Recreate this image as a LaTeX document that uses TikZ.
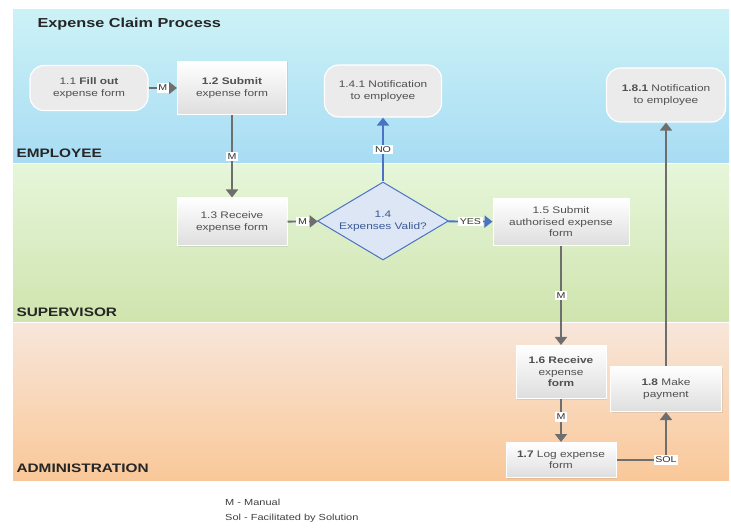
\documentclass[tikz,border=0pt]{standalone}
\usepackage{fontspec}
\setmainfont{Liberation Sans}
\newfontfamily\widefont[FakeStretch=1.25]{Liberation Sans}
\usetikzlibrary{arrows.meta,shapes.geometric,shadows}
\definecolor{linegray}{HTML}{6E6E6E}
\definecolor{txtgray}{HTML}{505050}
\definecolor{dblue}{HTML}{4C72C4}
\definecolor{dtext}{HTML}{3A5A98}
\definecolor{empTop}{HTML}{CCF2F6}
\definecolor{empBot}{HTML}{A8DCF4}
\definecolor{supTop}{HTML}{E6F6DA}
\definecolor{supBot}{HTML}{CFE4AE}
\definecolor{admTop}{HTML}{F8E6DA}
\definecolor{admBot}{HTML}{F9C899}
\definecolor{decFill}{HTML}{DCE6F4}
\tikzset{
  procbox/.style={rectangle, draw=white, line width=1pt, top color=white, bottom color=black!13,
    align=center, text=txtgray, font=\widefont\fontsize{9.5}{11.5}\selectfont, inner sep=2pt,
    drop shadow={opacity=0.18, shadow xshift=1pt, shadow yshift=-1pt}},
  termbox/.style={rectangle, rounded corners=14pt, draw=white, line width=1.2pt, fill=black!8,
    align=center, text=txtgray, font=\widefont\fontsize{9.5}{11.5}\selectfont, inner sep=2pt},
  decbox/.style={diamond, draw=dblue, line width=1pt, fill=decFill, aspect=1.68,
    align=center, text=dtext, font=\widefont\fontsize{9.5}{11.5}\selectfont, inner sep=1pt},
  conn/.style={draw=linegray, line width=1.8pt, -{Triangle[width=12pt,length=8pt]}},
  bconn/.style={draw=dblue, line width=1.8pt, -{Triangle[width=12pt,length=8pt]}},
  lab/.style={fill=white, text=black!80, font=\widefont\fontsize{8.5}{9.5}\selectfont, inner sep=1.8pt},
  lanelab/.style={anchor=west, font=\widefont\bfseries\fontsize{12.3}{14}\selectfont, text=black!85},
}
\begin{document}
\begin{tikzpicture}[x=1pt,y=-1pt]
\useasboundingbox (0,0) rectangle (731,529);
\fill[white] (0,0) rectangle (731,529);
% lanes
\shade[top color=empTop, bottom color=empBot] (13,10) rectangle (729,163);
\shade[top color=supTop, bottom color=supBot] (13,164) rectangle (729,322);
\shade[top color=admTop, bottom color=admBot] (13,323) rectangle (729,480);
\draw[white, line width=1.2pt] (13,163.5) -- (729,163.5);
\draw[white, line width=1.2pt] (13,322.5) -- (729,322.5);
% titles
\node[anchor=west, font=\widefont\bfseries\fontsize{13}{15}\selectfont, text=black!85] (title) at (34,24) {Expense Claim Process};
\node[lanelab] (lemp) at (13,153) {EMPLOYEE};
\node[lanelab] (lsup) at (13,312) {SUPERVISOR};
\node[lanelab] (ladm) at (13,468) {ADMINISTRATION};
% nodes
\node[termbox, minimum width=118pt, minimum height=45pt] (n11) at (89,88) {1.1 \textbf{Fill out}\\expense form};
\node[procbox, minimum width=109pt, minimum height=53pt] (n12) at (232,88) {\textbf{1.2 Submit}\\expense form};
\node[termbox, minimum width=117pt, minimum height=52pt] (n141) at (383,91) {1.4.1 Notification\\to employee};
\node[termbox, minimum width=119pt, minimum height=54pt] (n181) at (666,95) {\textbf{1.8.1} Notification\\to employee};
\node[procbox, minimum width=110pt, minimum height=48pt] (n13) at (232,222) {1.3 Receive\\expense form};
\node[decbox, minimum width=131pt, minimum height=78pt] (n14) at (383,221) {1.4\\Expenses Valid?};
\node[procbox, minimum width=136pt, minimum height=47pt] (n15) at (561,222) {1.5 Submit\\authorised expense\\form};
\node[procbox, minimum width=90pt, minimum height=53pt] (n16) at (561,372) {\textbf{1.6 Receive}\\expense\\\textbf{form}};
\node[procbox, minimum width=111pt, minimum height=45pt] (n18) at (666,389) {\textbf{1.8} Make\\payment};
\node[procbox, minimum width=110pt, minimum height=35pt] (n17) at (561,460) {\textbf{1.7} Log expense\\form};
% connectors
\draw[conn] (n11) -- node[lab]{M} (n12);
\draw[conn] (n12) -- node[lab]{M} (n13);
\draw[conn] (n13) -- node[lab]{M} (n14);
\draw[bconn] (n14) -- node[lab]{NO} (n141);
\draw[bconn] (n14) -- node[lab]{YES} (n15);
\draw[conn] (n15) -- node[lab]{M} (n16);
\draw[conn] (n16) -- node[lab, pos=0.42]{M} (n17);
\draw[conn] (n17) -| node[lab, pos=0.5]{SOL} (n18);
\draw[conn] (n18) -- (n181);
% legend
\node[anchor=north west, align=left, font=\widefont\fontsize{8.8}{15}\selectfont, text=black!75, inner sep=0pt] (legend) at (225,499) {M - Manual\\Sol - Facilitated by Solution};
\end{tikzpicture}
\end{document}
